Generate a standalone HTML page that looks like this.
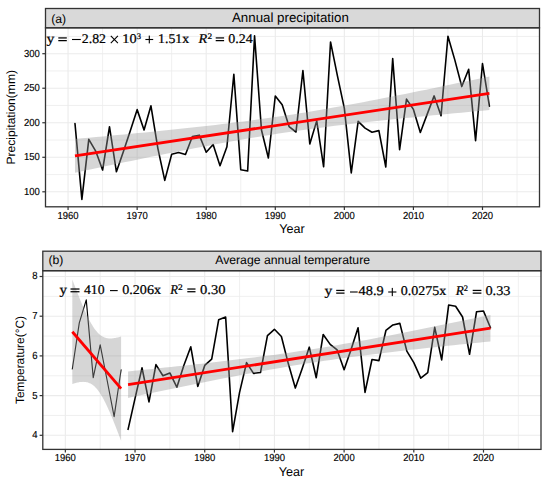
<!DOCTYPE html>
<html><head><meta charset="utf-8"><style>
html,body{margin:0;padding:0;background:#fff;}
svg{display:block;}
text{text-rendering:geometricPrecision;}
.sans{font-family:"Liberation Sans",sans-serif;fill:#000;}
.serif{font-family:"Liberation Serif",serif;fill:#000;}
.ax{font-size:9.9px;stroke:#000;stroke-width:0.15;}
.gmaj{stroke:#ebebeb;stroke-width:1.1;}
.gmin{stroke:#ececec;stroke-width:0.8;}
.strip{fill:#d9d9d9;stroke:#333;stroke-width:1.3;}
.border{fill:none;stroke:#333;stroke-width:1.3;}
.tick{stroke:#333;stroke-width:1.2;}
.data{fill:none;stroke:#000;stroke-width:1.6;stroke-linejoin:round;stroke-linecap:round;}
.data1{fill:none;stroke:#000;stroke-width:1.15;stroke-linejoin:round;stroke-linecap:round;}
.op{fill:#000;}
.opx{stroke:#000;stroke-width:1.1;fill:none;}
.eqt{stroke:#000;stroke-width:0.24;}
.band{fill:#999;fill-opacity:0.4;}
.fit{stroke:#ff0000;stroke-width:2.8;}
</style></head><body>
<svg width="550" height="483" viewBox="0 0 550 483">
<rect width="550" height="483" fill="#fff"/>
<line x1="45.5" x2="539.5" y1="174.54" y2="174.54" class="gmin"/>
<line x1="45.5" x2="539.5" y1="140.01" y2="140.01" class="gmin"/>
<line x1="45.5" x2="539.5" y1="105.49" y2="105.49" class="gmin"/>
<line x1="45.5" x2="539.5" y1="70.96" y2="70.96" class="gmin"/>
<line x1="45.5" x2="539.5" y1="36.44" y2="36.44" class="gmin"/>
<line x1="102.60" x2="102.60" y1="27.8" y2="206.8" class="gmin"/>
<line x1="171.68" x2="171.68" y1="27.8" y2="206.8" class="gmin"/>
<line x1="240.75" x2="240.75" y1="27.8" y2="206.8" class="gmin"/>
<line x1="309.81" x2="309.81" y1="27.8" y2="206.8" class="gmin"/>
<line x1="378.88" x2="378.88" y1="27.8" y2="206.8" class="gmin"/>
<line x1="447.95" x2="447.95" y1="27.8" y2="206.8" class="gmin"/>
<line x1="517.02" x2="517.02" y1="27.8" y2="206.8" class="gmin"/>
<line x1="45.5" x2="539.5" y1="191.80" y2="191.80" class="gmaj"/>
<line x1="45.5" x2="539.5" y1="157.28" y2="157.28" class="gmaj"/>
<line x1="45.5" x2="539.5" y1="122.75" y2="122.75" class="gmaj"/>
<line x1="45.5" x2="539.5" y1="88.23" y2="88.23" class="gmaj"/>
<line x1="45.5" x2="539.5" y1="53.70" y2="53.70" class="gmaj"/>
<line x1="68.07" x2="68.07" y1="27.8" y2="206.8" class="gmaj"/>
<line x1="137.14" x2="137.14" y1="27.8" y2="206.8" class="gmaj"/>
<line x1="206.21" x2="206.21" y1="27.8" y2="206.8" class="gmaj"/>
<line x1="275.28" x2="275.28" y1="27.8" y2="206.8" class="gmaj"/>
<line x1="344.35" x2="344.35" y1="27.8" y2="206.8" class="gmaj"/>
<line x1="413.42" x2="413.42" y1="27.8" y2="206.8" class="gmaj"/>
<line x1="482.49" x2="482.49" y1="27.8" y2="206.8" class="gmaj"/>
<polyline points="74.98,123.51 81.88,199.40 88.79,139.39 95.70,151.06 102.60,170.05 109.51,126.75 116.42,171.78 123.33,151.75 130.23,131.04 137.14,109.63 144.05,130.00 150.95,105.83 157.86,148.30 164.77,180.41 171.68,154.31 178.58,152.51 185.49,154.51 192.40,136.56 199.30,135.18 206.21,152.23 213.12,144.57 220.02,165.70 226.93,146.78 233.84,74.21 240.75,169.70 247.65,171.02 254.56,35.82 261.47,130.00 268.37,157.97 275.28,96.03 282.19,104.80 289.09,126.55 296.00,132.00 302.91,70.55 309.81,144.02 316.72,120.89 323.63,166.80 330.54,41.96 337.44,75.80 344.35,108.39 351.26,172.95 358.16,121.37 365.07,128.07 371.98,132.28 378.88,130.62 385.79,167.01 392.70,58.60 399.61,149.68 406.51,99.13 413.42,109.42 420.33,132.42 427.23,114.12 434.14,95.89 441.05,115.71 447.95,36.23 454.86,60.12 461.77,86.57 468.68,69.31 475.58,140.63 482.49,63.51 489.40,106.18" class="data"/>
<path d="M74.98,139.01 L82.00,138.37 L89.03,137.73 L96.05,137.09 L103.07,136.43 L110.10,135.78 L117.12,135.12 L124.15,134.45 L131.17,133.78 L138.19,133.09 L145.22,132.41 L152.24,131.71 L159.27,131.00 L166.29,130.29 L173.31,129.56 L180.34,128.82 L187.36,128.07 L194.39,127.31 L201.41,126.53 L208.43,125.73 L215.46,124.92 L222.48,124.08 L229.51,123.23 L236.53,122.35 L243.55,121.45 L250.58,120.53 L257.60,119.58 L264.63,118.60 L271.65,117.60 L278.67,116.57 L285.70,115.51 L292.72,114.42 L299.75,113.30 L306.77,112.16 L313.80,110.99 L320.82,109.79 L327.84,108.57 L334.87,107.33 L341.89,106.06 L348.92,104.78 L355.94,103.47 L362.96,102.15 L369.99,100.81 L377.01,99.45 L384.04,98.08 L391.06,96.70 L398.08,95.31 L405.11,93.90 L412.13,92.49 L419.16,91.07 L426.18,89.63 L433.20,88.19 L440.23,86.75 L447.25,85.30 L454.28,83.84 L461.30,82.37 L468.32,80.90 L475.35,79.43 L482.37,77.95 L489.40,76.47 L489.40,110.09 L482.37,110.73 L475.35,111.37 L468.32,112.01 L461.30,112.66 L454.28,113.32 L447.25,113.98 L440.23,114.65 L433.20,115.32 L426.18,116.00 L419.16,116.69 L412.13,117.39 L405.11,118.10 L398.08,118.81 L391.06,119.54 L384.04,120.28 L377.01,121.03 L369.99,121.79 L362.96,122.57 L355.94,123.37 L348.92,124.18 L341.89,125.02 L334.87,125.87 L327.84,126.75 L320.82,127.65 L313.80,128.57 L306.77,129.52 L299.75,130.50 L292.72,131.50 L285.70,132.53 L278.67,133.59 L271.65,134.68 L264.63,135.80 L257.60,136.94 L250.58,138.11 L243.55,139.31 L236.53,140.53 L229.51,141.77 L222.48,143.04 L215.46,144.32 L208.43,145.63 L201.41,146.95 L194.39,148.29 L187.36,149.65 L180.34,151.02 L173.31,152.40 L166.29,153.79 L159.27,155.20 L152.24,156.61 L145.22,158.03 L138.19,159.47 L131.17,160.90 L124.15,162.35 L117.12,163.80 L110.10,165.26 L103.07,166.73 L96.05,168.19 L89.03,169.67 L82.00,171.15 L74.98,172.63 Z" class="band"/>
<line x1="74.98" y1="155.82" x2="489.40" y2="93.28" class="fit"/>
<text x="46.40" y="42.9" class="serif eqt" font-size="13.4" textLength="7.90" lengthAdjust="spacingAndGlyphs">y</text>
<rect x="58.30" y="37.30" width="8.50" height="1.25" class="op"/>
<rect x="58.30" y="40.00" width="8.50" height="1.25" class="op"/>
<rect x="72.00" y="38.95" width="8.80" height="1.1" class="op"/>
<text x="81.80" y="42.9" class="serif eqt" font-size="13.4" textLength="24.20" lengthAdjust="spacingAndGlyphs">2.82</text>
<path d="M110.80,35.95 L117.90,43.05 M110.80,43.05 L117.90,35.95" class="opx"/>
<text x="122.30" y="42.9" class="serif eqt" font-size="13.4" textLength="14.30" lengthAdjust="spacingAndGlyphs">10</text>
<text x="136.80" y="38.90" class="serif eqt" font-size="8.44" textLength="4.30" lengthAdjust="spacingAndGlyphs">3</text>
<rect x="145.40" y="38.95" width="7.80" height="1.1" class="op"/>
<rect x="148.75" y="35.60" width="1.1" height="7.80" class="op"/>
<text x="158.10" y="42.9" class="serif eqt" font-size="13.4" textLength="31.00" lengthAdjust="spacingAndGlyphs">1.51x</text>
<text x="198.50" y="42.9" class="serif eqt" font-style="italic" font-size="13.4" textLength="8.70" lengthAdjust="spacingAndGlyphs">R</text>
<text x="207.60" y="38.90" class="serif eqt" font-size="8.44" textLength="4.60" lengthAdjust="spacingAndGlyphs">2</text>
<rect x="215.70" y="37.30" width="8.40" height="1.25" class="op"/>
<rect x="215.70" y="40.00" width="8.40" height="1.25" class="op"/>
<text x="228.30" y="42.9" class="serif eqt" font-size="13.4" textLength="24.50" lengthAdjust="spacingAndGlyphs">0.24</text>
<rect x="45.5" y="8.5" width="494.00" height="19.30" class="strip"/>
<text x="51.2" y="23.0" class="sans" font-size="12.2">(a)</text>
<text x="232" y="22.0" class="sans" font-size="13.3">Annual precipitation</text>
<rect x="45.5" y="27.8" width="494.00" height="179.00" class="border"/>
<line x1="42.30" x2="45.5" y1="191.80" y2="191.80" class="tick"/>
<text transform="translate(39.8,194.70) scale(0.96,1.03)" class="sans ax" text-anchor="end">100</text>
<line x1="42.30" x2="45.5" y1="157.28" y2="157.28" class="tick"/>
<text transform="translate(39.8,160.18) scale(0.96,1.03)" class="sans ax" text-anchor="end">150</text>
<line x1="42.30" x2="45.5" y1="122.75" y2="122.75" class="tick"/>
<text transform="translate(39.8,125.65) scale(0.96,1.03)" class="sans ax" text-anchor="end">200</text>
<line x1="42.30" x2="45.5" y1="88.23" y2="88.23" class="tick"/>
<text transform="translate(39.8,91.13) scale(0.96,1.03)" class="sans ax" text-anchor="end">250</text>
<line x1="42.30" x2="45.5" y1="53.70" y2="53.70" class="tick"/>
<text transform="translate(39.8,56.60) scale(0.96,1.03)" class="sans ax" text-anchor="end">300</text>
<line x1="68.07" x2="68.07" y1="206.8" y2="210.00" class="tick"/>
<text transform="translate(68.07,218.8) scale(0.96,1.03)" class="sans ax" text-anchor="middle">1960</text>
<line x1="137.14" x2="137.14" y1="206.8" y2="210.00" class="tick"/>
<text transform="translate(137.14,218.8) scale(0.96,1.03)" class="sans ax" text-anchor="middle">1970</text>
<line x1="206.21" x2="206.21" y1="206.8" y2="210.00" class="tick"/>
<text transform="translate(206.21,218.8) scale(0.96,1.03)" class="sans ax" text-anchor="middle">1980</text>
<line x1="275.28" x2="275.28" y1="206.8" y2="210.00" class="tick"/>
<text transform="translate(275.28,218.8) scale(0.96,1.03)" class="sans ax" text-anchor="middle">1990</text>
<line x1="344.35" x2="344.35" y1="206.8" y2="210.00" class="tick"/>
<text transform="translate(344.35,218.8) scale(0.96,1.03)" class="sans ax" text-anchor="middle">2000</text>
<line x1="413.42" x2="413.42" y1="206.8" y2="210.00" class="tick"/>
<text transform="translate(413.42,218.8) scale(0.96,1.03)" class="sans ax" text-anchor="middle">2010</text>
<line x1="482.49" x2="482.49" y1="206.8" y2="210.00" class="tick"/>
<text transform="translate(482.49,218.8) scale(0.96,1.03)" class="sans ax" text-anchor="middle">2020</text>
<text x="292" y="233.2" class="sans" font-size="12.6" text-anchor="middle">Year</text>
<text transform="translate(14.9,117.30) rotate(-90)" x="0" y="0" class="sans" font-size="12" text-anchor="middle" textLength="94.5" lengthAdjust="spacingAndGlyphs">Precipitation(mm)</text>
<line x1="42.8" x2="541.0" y1="415.45" y2="415.45" class="gmin"/>
<line x1="42.8" x2="541.0" y1="375.75" y2="375.75" class="gmin"/>
<line x1="42.8" x2="541.0" y1="336.05" y2="336.05" class="gmin"/>
<line x1="42.8" x2="541.0" y1="296.35" y2="296.35" class="gmin"/>
<line x1="100.19" x2="100.19" y1="270.7" y2="449.4" class="gmin"/>
<line x1="169.88" x2="169.88" y1="270.7" y2="449.4" class="gmin"/>
<line x1="239.57" x2="239.57" y1="270.7" y2="449.4" class="gmin"/>
<line x1="309.26" x2="309.26" y1="270.7" y2="449.4" class="gmin"/>
<line x1="378.96" x2="378.96" y1="270.7" y2="449.4" class="gmin"/>
<line x1="448.64" x2="448.64" y1="270.7" y2="449.4" class="gmin"/>
<line x1="518.34" x2="518.34" y1="270.7" y2="449.4" class="gmin"/>
<line x1="42.8" x2="541.0" y1="435.30" y2="435.30" class="gmaj"/>
<line x1="42.8" x2="541.0" y1="395.60" y2="395.60" class="gmaj"/>
<line x1="42.8" x2="541.0" y1="355.90" y2="355.90" class="gmaj"/>
<line x1="42.8" x2="541.0" y1="316.20" y2="316.20" class="gmaj"/>
<line x1="42.8" x2="541.0" y1="276.50" y2="276.50" class="gmaj"/>
<line x1="65.35" x2="65.35" y1="270.7" y2="449.4" class="gmaj"/>
<line x1="135.04" x2="135.04" y1="270.7" y2="449.4" class="gmaj"/>
<line x1="204.73" x2="204.73" y1="270.7" y2="449.4" class="gmaj"/>
<line x1="274.42" x2="274.42" y1="270.7" y2="449.4" class="gmaj"/>
<line x1="344.11" x2="344.11" y1="270.7" y2="449.4" class="gmaj"/>
<line x1="413.80" x2="413.80" y1="270.7" y2="449.4" class="gmaj"/>
<line x1="483.49" x2="483.49" y1="270.7" y2="449.4" class="gmaj"/>
<polyline points="72.32,369.00 79.29,322.95 86.26,299.92 93.23,377.74 100.19,344.78 107.16,380.51 114.13,416.64 121.10,369.79" class="data1"/>
<polyline points="128.07,429.34 135.04,398.38 142.01,367.81 148.98,401.95 155.95,364.63 162.92,375.75 169.88,372.97 176.85,387.26 183.82,365.43 190.79,346.77 197.76,386.47 204.73,365.43 211.70,359.08 218.67,319.77 225.64,316.99 232.61,431.73 239.57,392.42 246.54,362.65 253.51,373.37 260.48,372.57 267.45,335.65 274.42,329.30 281.39,336.45 288.36,363.84 295.33,388.06 302.30,368.21 309.26,347.17 316.23,377.74 323.20,334.46 330.17,344.39 337.14,349.94 344.11,369.79 351.08,349.55 358.05,327.71 365.02,392.42 371.99,359.47 378.96,360.66 385.92,330.49 392.89,324.93 399.86,323.35 406.83,351.14 413.80,362.65 420.77,378.13 427.74,372.57 434.71,327.32 441.68,359.87 448.64,305.08 455.61,306.27 462.58,316.99 469.55,354.31 476.52,311.83 483.49,311.04 490.46,327.71" class="data"/>
<path d="M72.32,279.50 L73.15,281.69 L73.97,283.88 L74.80,286.05 L75.63,288.20 L76.45,290.34 L77.28,292.45 L78.11,294.55 L78.93,296.63 L79.76,298.68 L80.59,300.71 L81.41,302.72 L82.24,304.69 L83.07,306.63 L83.89,308.54 L84.72,310.42 L85.55,312.25 L86.38,314.04 L87.20,315.79 L88.03,317.48 L88.86,319.13 L89.68,320.72 L90.51,322.25 L91.34,323.72 L92.16,325.12 L92.99,326.46 L93.82,327.72 L94.64,328.92 L95.47,330.03 L96.30,331.07 L97.12,332.04 L97.95,332.93 L98.78,333.74 L99.60,334.48 L100.43,335.14 L101.26,335.73 L102.08,336.26 L102.91,336.72 L103.74,337.12 L104.57,337.45 L105.39,337.74 L106.22,337.97 L107.05,338.15 L107.87,338.29 L108.70,338.39 L109.53,338.44 L110.35,338.46 L111.18,338.45 L112.01,338.40 L112.83,338.33 L113.66,338.23 L114.49,338.10 L115.31,337.95 L116.14,337.78 L116.97,337.59 L117.79,337.39 L118.62,337.16 L119.45,336.92 L120.28,336.67 L121.10,336.40 L121.10,440.84 L120.28,438.64 L119.45,436.46 L118.62,434.29 L117.79,432.14 L116.97,430.00 L116.14,427.88 L115.31,425.78 L114.49,423.71 L113.66,421.65 L112.83,419.62 L112.01,417.62 L111.18,415.64 L110.35,413.70 L109.53,411.79 L108.70,409.92 L107.87,408.09 L107.05,406.29 L106.22,404.55 L105.39,402.85 L104.57,401.21 L103.74,399.62 L102.91,398.08 L102.08,396.62 L101.26,395.21 L100.43,393.88 L99.60,392.61 L98.78,391.42 L97.95,390.30 L97.12,389.26 L96.30,388.30 L95.47,387.41 L94.64,386.60 L93.82,385.86 L92.99,385.20 L92.16,384.60 L91.34,384.08 L90.51,383.62 L89.68,383.22 L88.86,382.88 L88.03,382.60 L87.20,382.37 L86.38,382.18 L85.55,382.04 L84.72,381.95 L83.89,381.89 L83.07,381.87 L82.24,381.89 L81.41,381.93 L80.59,382.01 L79.76,382.11 L78.93,382.23 L78.11,382.38 L77.28,382.55 L76.45,382.74 L75.63,382.95 L74.80,383.17 L73.97,383.41 L73.15,383.67 L72.32,383.94 Z" class="band"/>
<path d="M128.07,371.42 L134.21,370.79 L140.36,370.16 L146.50,369.53 L152.64,368.89 L158.78,368.25 L164.92,367.61 L171.07,366.96 L177.21,366.31 L183.35,365.65 L189.49,364.98 L195.63,364.31 L201.78,363.63 L207.92,362.94 L214.06,362.25 L220.20,361.54 L226.35,360.83 L232.49,360.10 L238.63,359.36 L244.77,358.61 L250.91,357.85 L257.06,357.07 L263.20,356.27 L269.34,355.46 L275.48,354.63 L281.63,353.77 L287.77,352.90 L293.91,352.01 L300.05,351.10 L306.19,350.16 L312.34,349.20 L318.48,348.22 L324.62,347.22 L330.76,346.20 L336.90,345.15 L343.05,344.09 L349.19,343.00 L355.33,341.90 L361.47,340.78 L367.62,339.64 L373.76,338.49 L379.90,337.33 L386.04,336.15 L392.18,334.96 L398.33,333.76 L404.47,332.55 L410.61,331.33 L416.75,330.10 L422.90,328.86 L429.04,327.62 L435.18,326.37 L441.32,325.11 L447.46,323.85 L453.61,322.58 L459.75,321.31 L465.89,320.04 L472.03,318.76 L478.17,317.47 L484.32,316.19 L490.46,314.90 L490.46,341.39 L484.32,342.01 L478.17,342.64 L472.03,343.27 L465.89,343.91 L459.75,344.55 L453.61,345.20 L447.46,345.84 L441.32,346.50 L435.18,347.16 L429.04,347.82 L422.90,348.50 L416.75,349.18 L410.61,349.86 L404.47,350.56 L398.33,351.26 L392.18,351.98 L386.04,352.70 L379.90,353.44 L373.76,354.19 L367.62,354.96 L361.47,355.74 L355.33,356.53 L349.19,357.35 L343.05,358.18 L336.90,359.03 L330.76,359.90 L324.62,360.79 L318.48,361.71 L312.34,362.64 L306.19,363.60 L300.05,364.58 L293.91,365.58 L287.77,366.61 L281.63,367.65 L275.48,368.72 L269.34,369.80 L263.20,370.90 L257.06,372.02 L250.91,373.16 L244.77,374.31 L238.63,375.48 L232.49,376.65 L226.35,377.84 L220.20,379.04 L214.06,380.25 L207.92,381.48 L201.78,382.70 L195.63,383.94 L189.49,385.18 L183.35,386.43 L177.21,387.69 L171.07,388.95 L164.92,390.22 L158.78,391.49 L152.64,392.77 L146.50,394.05 L140.36,395.33 L134.21,396.62 L128.07,397.91 Z" class="band"/>
<line x1="72.32" y1="331.72" x2="121.10" y2="388.62" class="fit"/>
<line x1="128.07" y1="384.66" x2="490.46" y2="328.14" class="fit"/>
<text x="59.50" y="294.0" class="serif eqt" font-size="13.4" textLength="7.50" lengthAdjust="spacingAndGlyphs">y</text>
<rect x="70.50" y="288.40" width="9.00" height="1.25" class="op"/>
<rect x="70.50" y="291.10" width="9.00" height="1.25" class="op"/>
<text x="84.00" y="294.0" class="serif eqt" font-size="13.4" textLength="20.60" lengthAdjust="spacingAndGlyphs">410</text>
<rect x="110.00" y="290.05" width="7.70" height="1.1" class="op"/>
<text x="122.20" y="294.0" class="serif eqt" font-size="13.4" textLength="38.80" lengthAdjust="spacingAndGlyphs">0.206x</text>
<text x="170.20" y="294.0" class="serif eqt" font-style="italic" font-size="13.4" textLength="7.70" lengthAdjust="spacingAndGlyphs">R</text>
<text x="177.90" y="290.00" class="serif eqt" font-size="8.44" textLength="4.70" lengthAdjust="spacingAndGlyphs">2</text>
<rect x="187.30" y="288.40" width="8.20" height="1.25" class="op"/>
<rect x="187.30" y="291.10" width="8.20" height="1.25" class="op"/>
<text x="200.00" y="294.0" class="serif eqt" font-size="13.4" textLength="25.50" lengthAdjust="spacingAndGlyphs">0.30</text>
<text x="324.50" y="295.4" class="serif eqt" font-size="13.4" textLength="7.80" lengthAdjust="spacingAndGlyphs">y</text>
<rect x="336.20" y="289.80" width="8.30" height="1.25" class="op"/>
<rect x="336.20" y="292.50" width="8.30" height="1.25" class="op"/>
<rect x="350.00" y="291.45" width="7.70" height="1.1" class="op"/>
<text x="358.60" y="295.4" class="serif eqt" font-size="13.4" textLength="25.10" lengthAdjust="spacingAndGlyphs">48.9</text>
<rect x="388.20" y="291.45" width="8.20" height="1.1" class="op"/>
<rect x="391.75" y="287.90" width="1.1" height="8.20" class="op"/>
<text x="400.70" y="295.4" class="serif eqt" font-size="13.4" textLength="45.50" lengthAdjust="spacingAndGlyphs">0.0275x</text>
<text x="455.70" y="295.4" class="serif eqt" font-style="italic" font-size="13.4" textLength="8.10" lengthAdjust="spacingAndGlyphs">R</text>
<text x="463.80" y="291.40" class="serif eqt" font-size="8.44" textLength="4.20" lengthAdjust="spacingAndGlyphs">2</text>
<rect x="472.70" y="289.80" width="8.70" height="1.25" class="op"/>
<rect x="472.70" y="292.50" width="8.70" height="1.25" class="op"/>
<text x="485.40" y="295.4" class="serif eqt" font-size="13.4" textLength="25.10" lengthAdjust="spacingAndGlyphs">0.33</text>
<rect x="42.8" y="251.2" width="498.20" height="19.50" class="strip"/>
<text x="48.5" y="264.4" class="sans" font-size="12.2">(b)</text>
<text x="215.2" y="263.9" class="sans" font-size="12.24">Average annual temperature</text>
<rect x="42.8" y="270.7" width="498.20" height="178.70" class="border"/>
<line x1="39.60" x2="42.8" y1="435.30" y2="435.30" class="tick"/>
<text transform="translate(37.6,438.20) scale(0.96,1.03)" class="sans ax" text-anchor="end">4</text>
<line x1="39.60" x2="42.8" y1="395.60" y2="395.60" class="tick"/>
<text transform="translate(37.6,398.50) scale(0.96,1.03)" class="sans ax" text-anchor="end">5</text>
<line x1="39.60" x2="42.8" y1="355.90" y2="355.90" class="tick"/>
<text transform="translate(37.6,358.80) scale(0.96,1.03)" class="sans ax" text-anchor="end">6</text>
<line x1="39.60" x2="42.8" y1="316.20" y2="316.20" class="tick"/>
<text transform="translate(37.6,319.10) scale(0.96,1.03)" class="sans ax" text-anchor="end">7</text>
<line x1="39.60" x2="42.8" y1="276.50" y2="276.50" class="tick"/>
<text transform="translate(37.6,279.40) scale(0.96,1.03)" class="sans ax" text-anchor="end">8</text>
<line x1="65.35" x2="65.35" y1="449.4" y2="452.60" class="tick"/>
<text transform="translate(65.35,461.3) scale(0.96,1.03)" class="sans ax" text-anchor="middle">1960</text>
<line x1="135.04" x2="135.04" y1="449.4" y2="452.60" class="tick"/>
<text transform="translate(135.04,461.3) scale(0.96,1.03)" class="sans ax" text-anchor="middle">1970</text>
<line x1="204.73" x2="204.73" y1="449.4" y2="452.60" class="tick"/>
<text transform="translate(204.73,461.3) scale(0.96,1.03)" class="sans ax" text-anchor="middle">1980</text>
<line x1="274.42" x2="274.42" y1="449.4" y2="452.60" class="tick"/>
<text transform="translate(274.42,461.3) scale(0.96,1.03)" class="sans ax" text-anchor="middle">1990</text>
<line x1="344.11" x2="344.11" y1="449.4" y2="452.60" class="tick"/>
<text transform="translate(344.11,461.3) scale(0.96,1.03)" class="sans ax" text-anchor="middle">2000</text>
<line x1="413.80" x2="413.80" y1="449.4" y2="452.60" class="tick"/>
<text transform="translate(413.80,461.3) scale(0.96,1.03)" class="sans ax" text-anchor="middle">2010</text>
<line x1="483.49" x2="483.49" y1="449.4" y2="452.60" class="tick"/>
<text transform="translate(483.49,461.3) scale(0.96,1.03)" class="sans ax" text-anchor="middle">2020</text>
<text x="291.5" y="475.6" class="sans" font-size="12.6" text-anchor="middle">Year</text>
<text transform="translate(23.8,360.05) rotate(-90)" x="0" y="0" class="sans" font-size="12" text-anchor="middle" textLength="88" lengthAdjust="spacingAndGlyphs">Temperature(°C)</text>
</svg>
</body></html>
